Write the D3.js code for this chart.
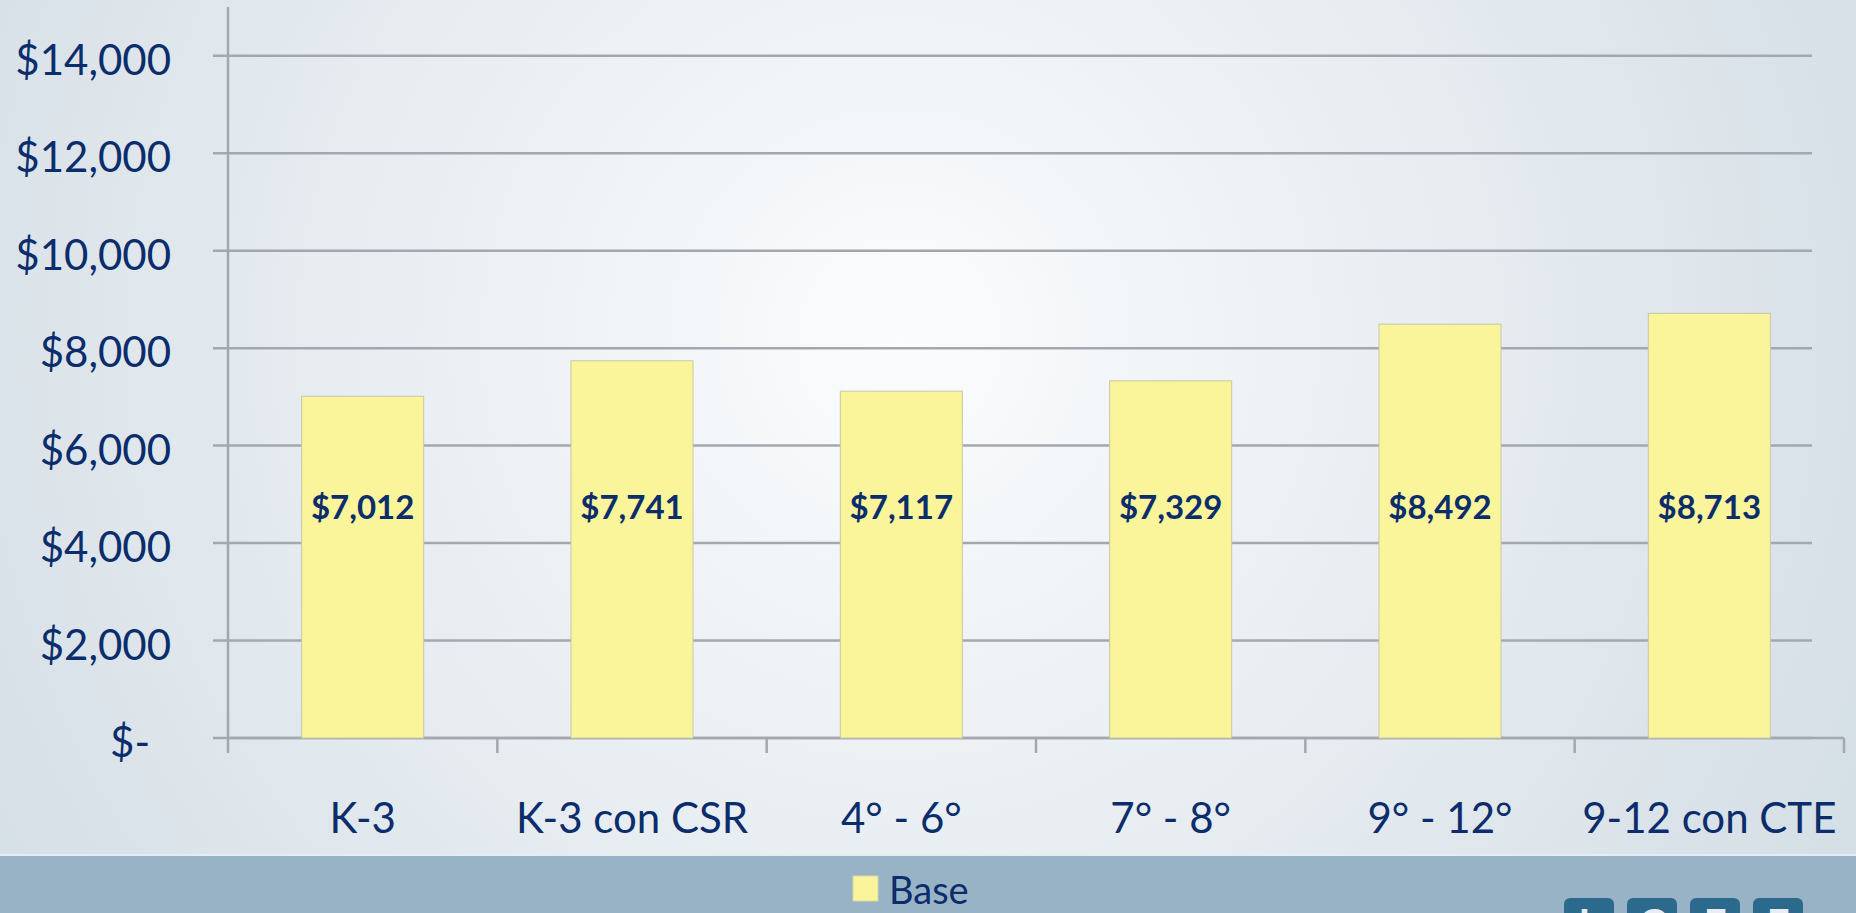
<!DOCTYPE html>
<html>
  <head>
    <meta charset="utf-8">
    <title>Base</title>
  </head>
  <body>
  <style media="screen">
    *{ box-sizing:border-box; }
    html, body { margin:0; padding:0; overflow:hidden; }
    svg { display:block; }
    text { font-family: Lato, "Open Sans", sans-serif; fill:#0b2d6b; }
    .grid line { stroke:#a3a8b0; stroke-width:2.5; }
    .bar { fill:#faf59b; stroke:#c9c7a6; stroke-width:1; }
    .ylab { font-size:42px; }
    .xlab { font-size:42px; }
    .val { font-size:33px; font-weight:bold; }
  </style>

<svg id="chart1" width="1856" height="913"></svg>

    <script src="https://d3js.org/d3.v7.min.js"></script>
    <script type="text/javascript">
    // data
    var categories = ['K-3', 'K-3 con CSR', '4° - 6°', '7° - 8°', '9° - 12°', '9-12 con CTE'];
    var baseValues = [7012, 7741, 7117, 7329, 8492, 8713];
    var yTicks = [0, 2000, 4000, 6000, 8000, 10000, 12000, 14000];
    var yTickLabels = ['$-', '$2,000', '$4,000', '$6,000', '$8,000', '$10,000', '$12,000', '$14,000'];
    var seriesName = 'Base';
    var logoLetters = ['L', 'C', 'F', 'F'];

    var W = 1856, H = 913;
    var svg = d3.select('#chart1');

    // background
    var defs = svg.append('defs');
    var rg = defs.append('radialGradient').attr('id', 'bg')
      .attr('gradientUnits', 'userSpaceOnUse')
      .attr('cx', 900).attr('cy', 340).attr('r', 1050);
    rg.append('stop').attr('offset', '0%').attr('stop-color', '#fbfcfd');
    rg.append('stop').attr('offset', '35%').attr('stop-color', '#eef2f5');
    rg.append('stop').attr('offset', '100%').attr('stop-color', '#d5dfe6');
    svg.append('rect').attr('width', W).attr('height', H).attr('fill', 'url(#bg)');

    // bottom band
    svg.append('rect').attr('x', 0).attr('y', 855).attr('width', W).attr('height', H - 855).attr('fill', '#98b3c5');
    svg.append('line').attr('x1', 0).attr('x2', W).attr('y1', 855).attr('y2', 855)
      .attr('stroke', '#e4edf2').attr('stroke-width', 2);

    var x = d3.scaleBand()
      .domain(categories)
      .range([228, 1844])
      .paddingInner(0.547)
      .paddingOuter(0.2735);

    var y = d3.scaleLinear()
      .domain([0, 15000])
      .range([738, 7]);

    // gridlines
    svg.append('g').attr('class', 'grid')
      .selectAll('line').data(yTicks).enter().append('line')
      .attr('x1', 213).attr('x2', 1812)
      .attr('y1', d => y(d)).attr('y2', d => y(d));

    // y axis line
    svg.append('line')
      .attr('x1', 228).attr('x2', 228)
      .attr('y1', y(15000)).attr('y2', y(0))
      .attr('stroke', '#a3a8b0').attr('stroke-width', 2.5);

    // x axis line + ticks
    svg.append('line')
      .attr('x1', 228).attr('x2', 1844)
      .attr('y1', y(0)).attr('y2', y(0))
      .attr('stroke', '#a3a8b0').attr('stroke-width', 2.5);
    var bounds = categories.map(c => x(c) - x.step() * x.paddingInner() / 2);
    bounds.push(x.range()[1]);
    svg.append('g').selectAll('line').data(bounds).enter().append('line')
      .attr('x1', d => d).attr('x2', d => d)
      .attr('y1', y(0)).attr('y2', y(0) + 15)
      .attr('stroke', '#a3a8b0').attr('stroke-width', 2.5);

    // y labels
    svg.append('g').selectAll('text').data(yTicks).enter().append('text')
      .attr('class', 'ylab')
      .attr('text-anchor', 'end')
      .attr('x', (d, i) => d === 0 ? 150 : 171)
      .attr('y', d => y(d) + 19)
      .text((d, i) => yTickLabels[i]);

    // bars
    svg.append('g').selectAll('rect').data(baseValues).enter().append('rect')
      .attr('class', 'bar')
      .attr('x', (d, i) => x(categories[i]))
      .attr('width', x.bandwidth())
      .attr('y', d => y(d))
      .attr('height', d => y(0) - y(d));

    // value labels
    svg.append('g').selectAll('text').data(baseValues).enter().append('text')
      .attr('class', 'val')
      .attr('text-anchor', 'middle')
      .attr('x', (d, i) => x(categories[i]) + x.bandwidth() / 2)
      .attr('y', y(4750) + 12)
      .text(d => '$' + d3.format(',')(d));

    // category labels
    svg.append('g').selectAll('text').data(categories).enter().append('text')
      .attr('class', 'xlab')
      .attr('text-anchor', 'middle')
      .attr('x', d => x(d) + x.bandwidth() / 2)
      .attr('y', 833)
      .text(d => d);

    // legend
    svg.append('rect').attr('x', 853).attr('y', 876).attr('width', 25).attr('height', 25)
      .attr('fill', '#faf59b').attr('stroke', '#d8d6a8');
    svg.append('text').attr('x', 889).attr('y', 904)
      .style('font-size', '38px').text(seriesName);

    // logo (cut off at bottom edge, as in the source slide)
    var logo = svg.append('g').selectAll('g').data(logoLetters).enter().append('g')
      .attr('transform', (d, i) => 'translate(' + (1564 + i * 63) + ',898)');
    logo.append('rect').attr('width', 50).attr('height', 50).attr('rx', 6)
      .attr('fill', '#2c6a8d');
    logo.append('text').attr('x', 25).attr('y', 40).attr('text-anchor', 'middle')
      .style('font-size', '40px').style('font-weight', 'bold').style('fill', '#e8eef2')
      .text(d => d);
    </script>

  </body>
</html>
